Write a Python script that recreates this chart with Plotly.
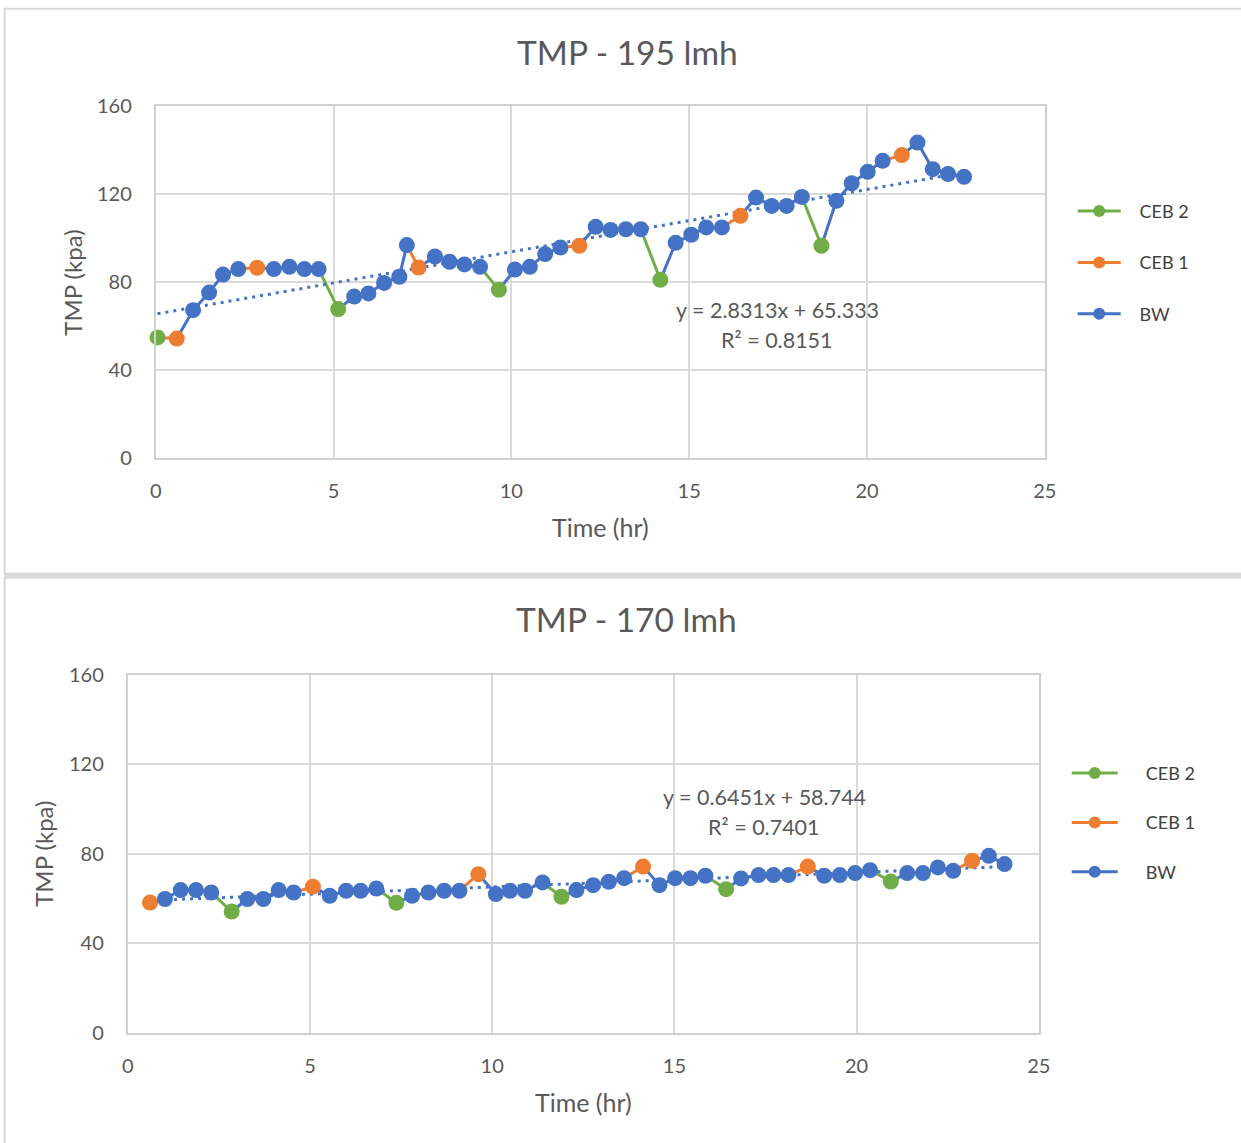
import plotly.graph_objects as go

# ---- data -------------------------------------------------------------
# 195 lmh run: time (hr), TMP (kpa) and the step each reading follows
time_195 = [0.05, 0.59, 1.05, 1.50, 1.89, 2.32, 2.85, 3.32, 3.76, 4.18, 4.58,
            5.13, 5.58, 5.98, 6.42, 6.85, 7.06, 7.39, 7.85, 8.26, 8.68, 9.12,
            9.65, 10.10, 10.52, 10.95, 11.38, 11.91, 12.37, 12.79, 13.22, 13.64,
            14.19, 14.62, 15.06, 15.48, 15.92, 16.44, 16.88, 17.32, 17.74, 18.17,
            18.72, 19.14, 19.57, 20.02, 20.44, 20.98, 21.42, 21.85, 22.28, 22.73]
tmp_195 = [54.7, 54.2, 67.1, 75.1, 83.3, 85.8, 86.4, 85.8, 86.8, 85.8, 85.8,
           67.6, 73.3, 74.7, 79.5, 82.3, 96.7, 86.5, 91.5, 89.1, 87.9, 86.8,
           76.4, 85.6, 86.8, 92.6, 95.6, 96.4, 105.0, 103.6, 103.9, 103.9,
           80.9, 97.7, 101.4, 104.7, 104.7, 110.0, 118.3, 114.5, 114.5, 118.6,
           96.4, 116.8, 124.8, 130.0, 135.0, 137.6, 143.3, 131.2, 129.0, 127.7]
step_195 = ["CEB 2", "CEB 1", "BW", "BW", "BW", "BW", "CEB 1", "BW", "BW", "BW", "BW",
            "CEB 2", "BW", "BW", "BW", "BW", "BW", "CEB 1", "BW", "BW", "BW", "BW",
            "CEB 2", "BW", "BW", "BW", "BW", "CEB 1", "BW", "BW", "BW", "BW",
            "CEB 2", "BW", "BW", "BW", "BW", "CEB 1", "BW", "BW", "BW", "BW",
            "CEB 2", "BW", "BW", "BW", "BW", "CEB 1", "BW", "BW", "BW", "BW"]
fit_195 = (2.8313, 65.333, 0.8151)

# 170 lmh run
time_170 = [0.61, 1.02, 1.45, 1.87, 2.29, 2.85, 3.28, 3.72, 4.14, 4.55, 5.08,
            5.54, 5.99, 6.39, 6.82, 7.37, 7.80, 8.25, 8.68, 9.10, 9.62, 10.10,
            10.49, 10.90, 11.38, 11.90, 12.31, 12.77, 13.20, 13.62, 14.14, 14.59,
            15.02, 15.44, 15.85, 16.42, 16.83, 17.31, 17.72, 18.13, 18.66, 19.11,
            19.54, 19.96, 20.37, 20.94, 21.39, 21.82, 22.23, 22.65, 23.17, 23.63, 24.06]
tmp_170 = [58.2, 59.8, 63.8, 63.8, 62.7, 54.2, 59.8, 59.8, 63.8, 62.7, 65.3,
           61.2, 63.5, 63.5, 64.5, 58.1, 61.2, 62.7, 63.5, 63.5, 70.9, 62.0,
           63.5, 63.5, 67.2, 60.8, 63.8, 66.0, 67.5, 69.1, 74.3, 66.0,
           69.1, 69.1, 70.2, 64.2, 69.0, 70.5, 70.5, 70.5, 74.3, 70.2,
           70.5, 71.4, 72.7, 67.6, 71.4, 71.4, 73.9, 72.4, 76.9, 79.1, 75.4]
step_170 = ["CEB 1", "BW", "BW", "BW", "BW", "CEB 2", "BW", "BW", "BW", "BW", "CEB 1",
            "BW", "BW", "BW", "BW", "CEB 2", "BW", "BW", "BW", "BW", "CEB 1", "BW",
            "BW", "BW", "BW", "CEB 2", "BW", "BW", "BW", "BW", "CEB 1", "BW",
            "BW", "BW", "BW", "CEB 2", "BW", "BW", "BW", "BW", "CEB 1", "BW",
            "BW", "BW", "BW", "CEB 2", "BW", "BW", "BW", "BW", "CEB 1", "BW", "BW"]
fit_170 = (0.6451, 58.744, 0.7401)

steps = ["CEB 2", "CEB 1", "BW"]
colors = {"CEB 2": "#70AD47", "CEB 1": "#ED7D31", "BW": "#4472C4"}

# ---- page geometry ------------------------------------------------------
# layout positions are given in page pixels and converted to paper fractions
W, H = 1241, 1143
SX, DX = 0.9877, 4.9
SY, DY = 0.979, 12.2
FONT = "Lato, Calibri, sans-serif"
GREY_TEXT = "#595959"


def px(x):
    return ((x - DX) / SX) / W


def py(y):
    return 1 - ((y - DY) / SY) / H


fig = go.Figure()


def add_run(t, p, step, fit, xa, ya, legend, pad):
    # each connector takes the colour of the reading it leads into
    for s in steps:
        xs, ys = [], []
        for i in range(1, len(t)):
            if step[i] == s:
                xs += [t[i - 1], t[i], None]
                ys += [p[i - 1], p[i], None]
        fig.add_trace(go.Scatter(x=xs, y=ys, mode="lines", xaxis=xa, yaxis=ya,
                                 line=dict(color=colors[s], width=3),
                                 showlegend=False, hoverinfo="skip"))
    # linear trend line over the run
    a, b, _ = fit
    x0, x1 = min(t), max(t)
    fig.add_trace(go.Scatter(x=[x0, x1], y=[a * x0 + b, a * x1 + b], mode="lines",
                             xaxis=xa, yaxis=ya, showlegend=False,
                             line=dict(color="#4472C4", width=3, dash="3px,5px")))
    for s in steps:
        xs = [t[i] for i in range(len(t)) if step[i] == s]
        ys = [p[i] for i in range(len(t)) if step[i] == s]
        fig.add_trace(go.Scatter(x=xs, y=ys, mode="markers", xaxis=xa, yaxis=ya,
                                 marker=dict(color=colors[s], size=16),
                                 cliponaxis=False, showlegend=False))
    # legend keys
    for s in steps:
        fig.add_trace(go.Scatter(x=[None], y=[None], mode="lines+markers",
                                 xaxis=xa, yaxis=ya,
                                 name="\u00a0" * pad + s, legend=legend,
                                 legendgroup=legend + s,
                                 line=dict(color=colors[s], width=3),
                                 marker=dict(color=colors[s], size=12)))


add_run(time_195, tmp_195, step_195, fit_195, "x", "y", "legend", 3)
add_run(time_170, tmp_170, step_170, fit_170, "x2", "y2", "legend2", 5)

axis_common = dict(showgrid=True, gridcolor="#d9d9d9", gridwidth=2,
                   zeroline=False, showline=True, linecolor="#d0d0d0",
                   linewidth=2, mirror=True, ticks="outside",
                   tickcolor="rgba(0,0,0,0)",
                   tickfont=dict(family=FONT, size=20, color=GREY_TEXT))

fig.update_layout(
    width=W, height=H,
    margin=dict(l=0, r=0, t=0, b=0),
    paper_bgcolor="white", plot_bgcolor="white",
    xaxis=dict(domain=[px(155), px(1046)], range=[0, 25], dtick=5,
               anchor="y", ticklen=14, **axis_common),
    yaxis=dict(domain=[py(457), py(105)], range=[0, 160], dtick=40,
               anchor="x", ticklen=18, **axis_common),
    xaxis2=dict(domain=[px(127), px(1040)], range=[0, 25], dtick=5,
                anchor="y2", ticklen=14, **axis_common),
    yaxis2=dict(domain=[py(1032), py(674)], range=[0, 160], dtick=40,
                anchor="x2", ticklen=18, **axis_common),
    legend=dict(x=px(1074), y=py(192), xanchor="left", yanchor="top",
                traceorder="grouped", tracegroupgap=25, itemwidth=43,
                bgcolor="rgba(0,0,0,0)",
                font=dict(family=FONT, size=18, color="#404040")),
    legend2=dict(x=px(1068), y=py(754), xanchor="left", yanchor="top",
                 traceorder="grouped", tracegroupgap=23, itemwidth=46,
                 bgcolor="rgba(0,0,0,0)",
                 font=dict(family=FONT, size=18, color="#404040")),
)

# chart frames
fig.add_shape(type="rect", xref="paper", yref="paper", x0=px(3.5), x1=px(1300),
              y0=py(573), y1=py(8), line=dict(color="#d9d9d9", width=2),
              layer="below")
fig.add_shape(type="rect", xref="paper", yref="paper", x0=px(3.5), x1=px(1300),
              y0=py(1200), y1=py(577), line=dict(color="#d9d9d9", width=2),
              layer="below")
fig.add_shape(type="rect", xref="paper", yref="paper", x0=px(3.5), x1=px(1300),
              y0=py(577), y1=py(573), line=dict(width=0), fillcolor="#d9d9d9",
              layer="below")


def label(text, x, y, size, angle=0, color=GREY_TEXT):
    fig.add_annotation(text=text, x=px(x), y=py(y), xref="paper", yref="paper",
                       showarrow=False, xanchor="center", yanchor="middle",
                       textangle=angle,
                       font=dict(family=FONT, size=size, color=color))


# titles and axis titles
label("TMP - 195 lmh", 628, 51, 33.5)
label("Time (hr)", 601, 526, 25)
label("TMP (kpa)", 72, 282, 24, angle=-90)
label("TMP - 170 lmh", 627, 618, 33.5)
label("Time (hr)", 584, 1101, 25)
label("TMP (kpa)", 43, 853, 24, angle=-90)

# trend line equations
for (a, b, r2), (cx, cy) in ((fit_195, (778, 309)), (fit_170, (765, 796))):
    label(f"y = {a}x + {b}", cx, cy, 21.5)
    label(f"R² = {r2}", cx, cy + 30, 21.5)

fig.write_html("out.html")
